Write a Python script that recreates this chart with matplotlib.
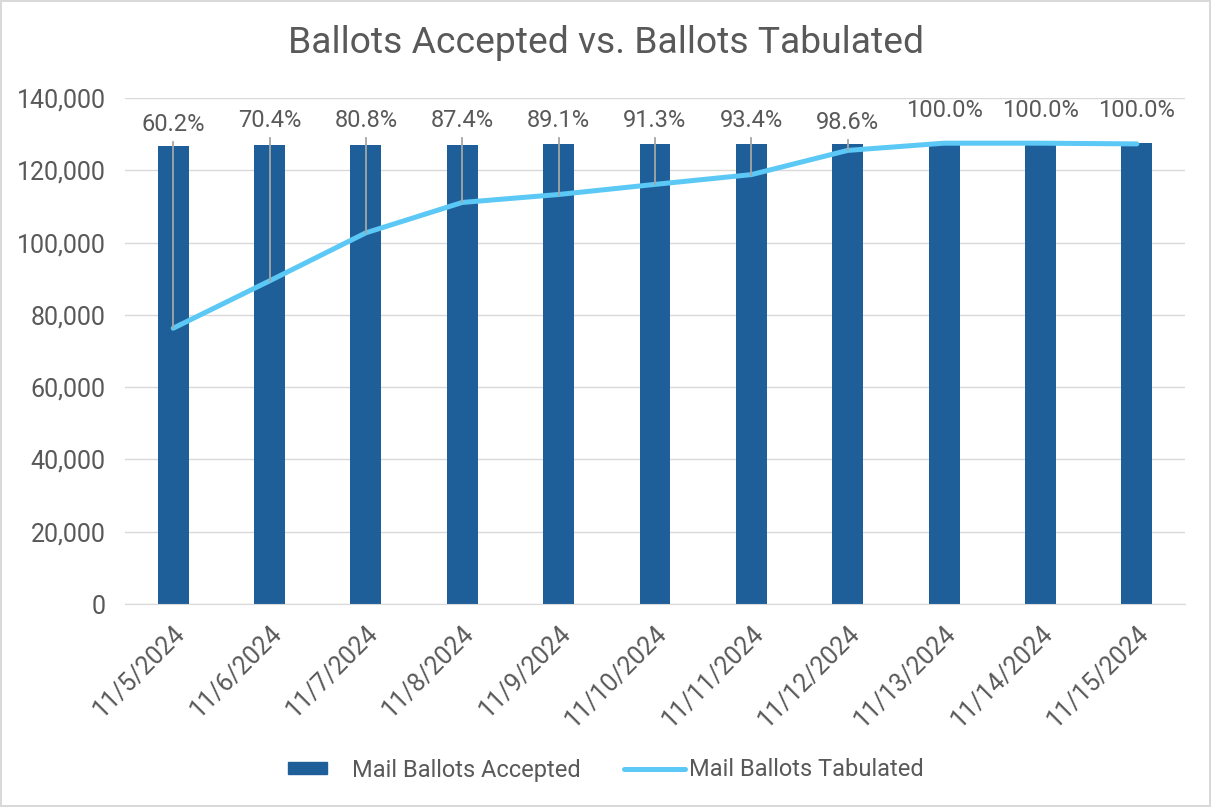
import matplotlib.pyplot as plt
from matplotlib.patches import Patch, Rectangle
from matplotlib.lines import Line2D
from matplotlib.legend_handler import HandlerPatch

plt.rcParams["font.family"] = ["Roboto", "DejaVu Sans"]

# data
fechas = ["11/5/2024", "11/6/2024", "11/7/2024", "11/8/2024", "11/9/2024",
          "11/10/2024", "11/11/2024", "11/12/2024", "11/13/2024",
          "11/14/2024", "11/15/2024"]
aceptados = [126700, 127000, 127100, 127100, 127200, 127200,
             127200, 127300, 127500, 127500, 127500]
tabulados = [76300, 89400, 102700, 111100, 113300, 116100,
             118800, 125500, 127500, 127500, 127300]
porcentajes = ["60.2%", "70.4%", "80.8%", "87.4%", "89.1%", "91.3%",
               "93.4%", "98.6%", "100.0%", "100.0%", "100.0%"]

# label placement (layout only)
label_y = [132700, 133800, 133800, 133800, 133800, 133800,
           133800, 133300, 136600, 136600, 136600]
con_guia = [True] * 8 + [False] * 3

gris = "#595959"
azul = "#1F5F99"
celeste = "#5BC8F5"

fig = plt.figure(figsize=(12.11, 8.07), dpi=100)
fig.patch.set_edgecolor("#D9D9D9")
fig.patch.set_linewidth(1.5)
ax = fig.add_axes([125 / 1211, 1 - 604 / 807, 1060 / 1211, 506 / 807])

x = list(range(len(fechas)))
ax.bar(x, aceptados, width=0.32, color=azul, zorder=2)
ax.plot(x, tabulados, color=celeste, lw=3.6, solid_capstyle="round",
        solid_joinstyle="round", zorder=3)

# percentage labels with leader lines
for i, (t, etiqueta) in enumerate(zip(tabulados, porcentajes)):
    ax.text(i, label_y[i], etiqueta, ha="center", va="center",
            fontsize=17, color=gris, zorder=5)
    if con_guia[i]:
        ax.plot([i, i], [label_y[i] - 4800, t], color="#A6A6A6", lw=1.3, zorder=4)

ax.set_xlim(-0.5, len(fechas) - 0.5)
ax.set_ylim(0, 140000)
ax.set_yticks(range(0, 140001, 20000))
ax.set_yticklabels([f"{v:,}" for v in range(0, 140001, 20000)])
ax.set_xticks(x)
ax.set_xticklabels(fechas, rotation=45, ha="right", rotation_mode="anchor")

ax.grid(axis="y", color="#D9D9D9", lw=1, zorder=0)
ax.set_axisbelow(True)
for lado in ["top", "right", "left"]:
    ax.spines[lado].set_visible(False)
ax.spines["bottom"].set_color("#D9D9D9")
ax.tick_params(axis="both", length=0, labelsize=18, labelcolor=gris)
ax.tick_params(axis="y", pad=14)
ax.tick_params(axis="x", pad=12)

fig.text(0.5, 1 - 43 / 807, "Ballots Accepted vs. Ballots Tabulated",
         ha="center", va="center", fontsize=26.8, color=gris)


# narrower square patch in the legend, like Excel
def caja(legend, orig_handle, xdescent, ydescent, width, height, fontsize):
    return Rectangle((-xdescent, -ydescent), width * 0.65, height)


handles = [Patch(color=azul, label="Mail Ballots Accepted"),
           Line2D([0], [0], color=celeste, lw=3.6, solid_capstyle="round",
                  label="Mail Ballots Tabulated")]
fig.legend(handles=handles, loc="center", bbox_to_anchor=(0.5, 1 - 770 / 807),
           ncol=2, frameon=False, fontsize=17, labelcolor=gris,
           handlelength=2.6, handleheight=0.45, columnspacing=1.8, handletextpad=0.15,
           handler_map={Patch: HandlerPatch(patch_func=caja)})

plt.savefig("out.png", dpi=100)
